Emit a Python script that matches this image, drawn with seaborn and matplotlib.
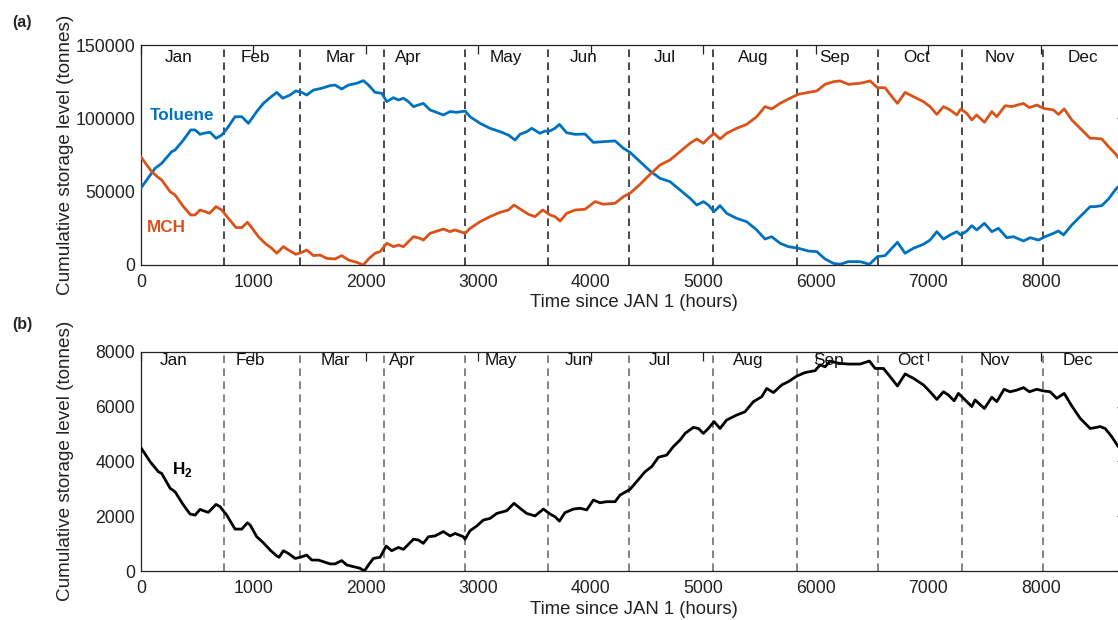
import numpy as np
import pandas as pd
import matplotlib
matplotlib.use("Agg")
import matplotlib.pyplot as plt
import seaborn as sns

# ---- data: cumulative storage levels (tonnes) against hour of the year ----
toluene_hours = [0, 53, 127, 186, 275, 305, 379, 444, 483, 527, 557, 616, 669, 720, 764, 838, 898, 957,
                 1031, 1090, 1149, 1209, 1262, 1327, 1378, 1431, 1475, 1535, 1609, 1683, 1727, 1786, 1846,
                 1920, 1979, 2024, 2083, 2142, 2187, 2246, 2290, 2335, 2379, 2424, 2512, 2572, 2690, 2749,
                 2809, 2883, 2927, 3016, 3105, 3194, 3268, 3327, 3371, 3431, 3475, 3549, 3594, 3623, 3682,
                 3721, 3786, 3860, 3949, 4023, 4112, 4216, 4290, 4349, 4438, 4527, 4616, 4705, 4794, 4882,
                 4942, 5001, 5045, 5096, 5149, 5208, 5297, 5386, 5475, 5549, 5608, 5683, 5757, 5846, 5935,
                 6009, 6083, 6157, 6216, 6291, 6394, 6477, 6548, 6616, 6676, 6726, 6794, 6868, 6957, 7016,
                 7076, 7135, 7194, 7254, 7289, 7342, 7387, 7431, 7499, 7565, 7624, 7698, 7757, 7846, 7905,
                 7979, 8039, 8113, 8157, 8202, 8276, 8350, 8439, 8483, 8543, 8602, 8661, 8688]
toluene = [52300, 58000, 65900, 69300, 77300, 78400, 85200, 92100, 92100, 89100, 89800, 90500, 86400,
           88600, 92700, 101100, 101100, 96600, 104600, 110200, 114100, 117700, 113700, 115900, 118700,
           117700, 115900, 119300, 120500, 122300, 122700, 120000, 122700, 123900, 125700, 122700, 117700,
           117100, 111400, 114100, 112500, 113700, 111400, 108000, 110200, 105700, 102300, 104600, 104100,
           105000, 101100, 96600, 93200, 90900, 88600, 85200, 89100, 90900, 93200, 89800, 91400, 90900,
           93200, 95900, 90200, 89100, 89300, 83600, 84100, 84600, 79600, 76800, 70500, 64100, 59100,
           56800, 51100, 45500, 40900, 43200, 40900, 36400, 40500, 35200, 31800, 29500, 23900, 17700,
           19300, 14800, 12500, 11400, 9500, 9100, 4100, 1100, 500, 2300, 2300, 500, 5700, 6400, 11400,
           15500, 8000, 11400, 14100, 17000, 22700, 17700, 20500, 22700, 20500, 23200, 26800, 23900,
           28400, 22700, 25000, 18600, 19300, 16400, 18600, 17000, 19300, 21600, 23200, 20500, 27300,
           33000, 39800, 39800, 40500, 45000, 51100, 53400]

mch_hours = [0, 53, 98, 157, 186, 261, 305, 379, 444, 483, 527, 572, 610, 669, 720, 779, 847, 898, 948,
             986, 1046, 1105, 1164, 1209, 1268, 1312, 1378, 1431, 1475, 1535, 1594, 1653, 1727, 1786, 1846,
             1920, 1979, 2024, 2083, 2127, 2187, 2246, 2290, 2335, 2424, 2483, 2512, 2572, 2690, 2749, 2794,
             2883, 2927, 3016, 3105, 3194, 3268, 3318, 3371, 3445, 3505, 3573, 3638, 3682, 3727, 3786, 3860,
             3949, 4038, 4112, 4216, 4290, 4349, 4438, 4527, 4616, 4705, 4794, 4882, 4942, 5001, 5045, 5096,
             5149, 5208, 5297, 5386, 5475, 5549, 5608, 5683, 5757, 5846, 5935, 6009, 6083, 6157, 6216, 6291,
             6394, 6483, 6548, 6616, 6676, 6726, 6794, 6868, 6957, 7016, 7076, 7135, 7194, 7254, 7289, 7342,
             7387, 7431, 7499, 7565, 7609, 7683, 7742, 7846, 7899, 7965, 8024, 8113, 8157, 8208, 8276, 8350,
             8439, 8483, 8543, 8602, 8661, 8688]
mch = [73900, 68200, 63600, 59600, 58000, 50000, 47700, 39800, 34100, 34100, 37500, 36400, 35200, 39800,
       37500, 31800, 25500, 25500, 29100, 25500, 19300, 14800, 11400, 8000, 12500, 10200, 7300, 8600,
       10200, 6400, 6800, 4500, 4100, 6400, 3400, 1800, 0, 4100, 8000, 9100, 14800, 12500, 13600, 12500,
       19300, 18200, 17000, 21600, 24500, 22700, 23900, 21600, 25000, 29500, 33000, 35900, 37500, 40900,
       38200, 34600, 33000, 37500, 34100, 33000, 30000, 35200, 37500, 38000, 43200, 41400, 42100, 46600,
       48900, 55000, 61800, 68200, 71600, 77300, 83000, 85900, 83000, 86400, 89800, 85900, 89800, 93200,
       95900, 101100, 108000, 106400, 110200, 113200, 116400, 117700, 118700, 123200, 125000, 125500,
       123200, 123900, 125500, 120900, 120900, 114800, 110200, 117700, 114800, 111400, 108000, 102700,
       108000, 105700, 102300, 106400, 103400, 98900, 102300, 97300, 104600, 101100, 108600, 108000,
       110200, 107300, 109100, 106800, 105700, 102700, 106400, 98900, 93200, 86400, 86400, 85900, 80700,
       76100, 73200]

h2_hours = [0, 83, 157, 186, 261, 305, 379, 438, 483, 527, 557, 601, 669, 705, 764, 838, 898, 948, 972,
            1031, 1090, 1149, 1209, 1229, 1268, 1312, 1372, 1416, 1475, 1520, 1579, 1623, 1683, 1727, 1786,
            1831, 1890, 1949, 1988, 2024, 2068, 2127, 2181, 2231, 2290, 2335, 2424, 2468, 2512, 2557, 2616,
            2690, 2749, 2794, 2868, 2882, 2927, 2986, 3045, 3105, 3164, 3253, 3318, 3371, 3431, 3505, 3579,
            3638, 3683, 3721, 3771, 3845, 3905, 3964, 4023, 4082, 4142, 4216, 4260, 4349, 4408, 4482, 4542,
            4601, 4675, 4734, 4794, 4838, 4912, 4957, 5001, 5045, 5096, 5149, 5208, 5297, 5371, 5446, 5520,
            5564, 5624, 5698, 5757, 5831, 5905, 5994, 6039, 6083, 6128, 6202, 6291, 6394, 6477, 6528, 6602,
            6661, 6726, 6794, 6868, 6957, 7016, 7076, 7135, 7179, 7230, 7268, 7328, 7387, 7416, 7499, 7565,
            7609, 7674, 7727, 7787, 7846, 7899, 7965, 8024, 8083, 8142, 8208, 8276, 8350, 8439, 8483, 8528,
            8572, 8631, 8688]
h2 = [4510, 3990, 3620, 3560, 3020, 2890, 2410, 2080, 2040, 2250, 2200, 2140, 2430, 2350, 2040, 1530,
      1530, 1760, 1680, 1250, 1030, 770, 550, 500, 740, 640, 460, 500, 580, 400, 400, 340, 260, 260, 380,
      220, 160, 100, 0, 220, 460, 500, 910, 740, 860, 790, 1160, 1130, 1010, 1250, 1280, 1440, 1280, 1370,
      1250, 1160, 1470, 1640, 1860, 1920, 2100, 2200, 2470, 2290, 2100, 2010, 2260, 2080, 1980, 1820,
      2130, 2260, 2290, 2230, 2590, 2490, 2530, 2530, 2770, 2980, 3260, 3620, 3810, 4150, 4230, 4540,
      4780, 5020, 5240, 5200, 5020, 5200, 5450, 5200, 5510, 5690, 5810, 6180, 6360, 6660, 6510, 6790,
      6910, 7110, 7240, 7310, 7520, 7450, 7660, 7580, 7550, 7550, 7660, 7390, 7390, 7090, 6750, 7190,
      7030, 6790, 6540, 6260, 6540, 6420, 6210, 6480, 6240, 6000, 6240, 5930, 6340, 6180, 6630, 6540,
      6600, 6690, 6540, 6630, 6570, 6540, 6300, 6480, 6020, 5570, 5200, 5230, 5270, 5200, 4900, 4540]

month_names = ["Jan", "Feb", "Mar", "Apr", "May", "Jun", "Jul", "Aug", "Sep", "Oct", "Nov", "Dec"]
month_hours = [744, 672, 744, 720, 744, 720, 744, 744, 720, 744, 720, 744]

# where each month name sits along the time axis (hours)
label_hours_a = [334, 1022, 1771, 2379, 3247, 3935, 4657, 5446, 6169, 6894, 7636, 8378]
label_hours_b = [290, 976, 1727, 2329, 3201, 3894, 4614, 5398, 6115, 6844, 7588, 8331]

df_tol = pd.DataFrame({"hour": toluene_hours, "level": toluene})
df_mch = pd.DataFrame({"hour": mch_hours, "level": mch})
df_h2 = pd.DataFrame({"hour": h2_hours, "level": h2})

month_bounds = np.cumsum(month_hours)[:-1]

# ---- style ----
sns.set_theme(style="white")
plt.rcParams["font.family"] = ["Liberation Sans", "DejaVu Sans"]
plt.rcParams["mathtext.fontset"] = "custom"
plt.rcParams["mathtext.rm"] = "Liberation Sans"
plt.rcParams["mathtext.bf"] = "Liberation Sans:bold"
plt.rcParams["axes.edgecolor"] = "#222222"
plt.rcParams["axes.linewidth"] = 0.9

BLUE = "#0072BD"
ORANGE = "#D95319"
FS_TICK = 12.7
FS_MONTH = 12.3
FS_XLABEL = 13.3
FS_YLABEL = 13.6

fig = plt.figure(figsize=(11.18, 6.2), dpi=100)
ax_a = fig.add_axes([0.1259, 0.5726, 0.8815, 0.3548])
ax_b = fig.add_axes([0.1259, 0.0790, 0.8815, 0.3537])


def style_axis(ax, ymax, yticks, dash_color, label_hours, label_y):
    ax.set_xlim(0, 8760)
    ax.set_ylim(0, ymax)
    ax.set_xticks([0, 1000, 2000, 3000, 4000, 5000, 6000, 7000, 8000])
    ax.set_yticks(yticks)
    ax.tick_params(axis="both", which="major", direction="in", length=6.5, width=0.9,
                   color="#222222", top=True, right=True, labelsize=FS_TICK,
                   labelcolor="#222222")
    ax.tick_params(axis="x", pad=6.5)
    ax.tick_params(axis="y", pad=4)
    for s in ax.spines.values():
        s.set_visible(True)
        s.set_color("#222222")
    for b in month_bounds:
        ax.axvline(b, color=dash_color, lw=1.3, dashes=(4.2, 3.0), zorder=1)
    trans = ax.get_xaxis_transform()
    for name, h in zip(month_names, label_hours):
        ax.text(h, label_y, name, transform=trans, ha="center", va="center",
                fontsize=FS_MONTH, color="#111111")
    ax.set_xlabel("Time since JAN 1 (hours)", fontsize=FS_XLABEL, color="#222222", labelpad=2.5)
    ax.set_ylabel("Cumulative storage level (tonnes)", fontsize=FS_YLABEL, color="#222222")
    ax.yaxis.set_label_coords(-0.0680, 0.5)
    ax.ticklabel_format(axis="y", style="plain", useOffset=False)


# ---- panel (a): toluene and MCH ----
sns.lineplot(data=df_tol, x="hour", y="level", ax=ax_a, color=BLUE, lw=2.0, estimator=None, zorder=3)
sns.lineplot(data=df_mch, x="hour", y="level", ax=ax_a, color=ORANGE, lw=2.0, estimator=None, zorder=3)
style_axis(ax_a, 150000, [0, 50000, 100000, 150000], "#3a3a3a", label_hours_a, 0.941)
ax_a.text(83, 101600, "Toluene", color=BLUE, fontsize=12.3, fontweight="bold", ha="left", va="center")
ax_a.text(53, 25700, "MCH", color=ORANGE, fontsize=12.3, fontweight="bold", ha="left", va="center")

# ---- panel (b): hydrogen ----
sns.lineplot(data=df_h2, x="hour", y="level", ax=ax_b, color="black", lw=2.0, estimator=None, zorder=3)
style_axis(ax_b, 8000, [0, 2000, 4000, 6000, 8000], "#7a7a7a", label_hours_b, 0.959)
ax_b.text(276, 3710, r"$\mathbf{H}_\mathbf{2}$", color="black", fontsize=12.3, ha="left", va="center")

fig.text(0.011, 0.963, "(a)", fontsize=11.5, fontweight="bold", ha="left", va="center")
fig.text(0.011, 0.476, "(b)", fontsize=11.5, fontweight="bold", ha="left", va="center")

fig.savefig("out.png", dpi=100)
